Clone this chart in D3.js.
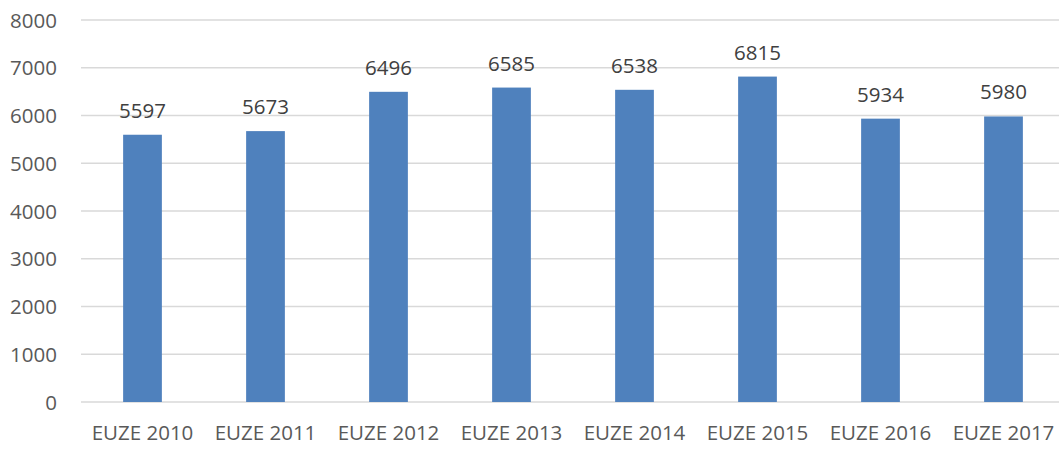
<!DOCTYPE html>
<html><head><meta charset="utf-8">
<script src="https://cdn.jsdelivr.net/npm/d3@7"></script>
<style>body{margin:0;background:#fff;} text{font-family:"Open Sans",sans-serif;fill:#595959;}</style>
</head><body><svg id="c" width="1059" height="449"></svg>
<script>
const categories = ["EUZE 2010","EUZE 2011","EUZE 2012","EUZE 2013","EUZE 2014","EUZE 2015","EUZE 2016","EUZE 2017"];
const values = [5597,5673,6496,6585,6538,6815,5934,5980];
const yTicks = [0,1000,2000,3000,4000,5000,6000,7000,8000];

const svg = d3.select("#c");
const x = d3.scaleBand().domain(categories).range([81,1065]).paddingInner(0.685).paddingOuter(0.3425);
const y = d3.scaleLinear().domain([0,8000]).range([402,20]);

// gridlines
svg.append("g").selectAll("line").data(yTicks).join("line")
  .attr("x1",81).attr("x2",1059).attr("y1",d=>y(d)).attr("y2",d=>y(d))
  .attr("stroke","#d9d9d9").attr("stroke-width",1.5);

// y axis labels
const yAxis = d3.axisLeft(y).tickValues(yTicks).tickSize(0).tickPadding(0).tickFormat(d3.format("d"));
const gy = svg.append("g").attr("transform","translate(57,0)").call(yAxis);
gy.select(".domain").remove();
gy.selectAll("text").attr("font-size",20.5).style("font-family","Open Sans").style("fill","#595959").attr("dy","0.35em");

// bars
svg.append("g").selectAll("rect").data(values).join("rect")
  .attr("x",(d,i)=>x(categories[i])).attr("width",x.bandwidth())
  .attr("y",d=>y(d)).attr("height",d=>y(0)-y(d)).attr("fill","#4f81bd");

// value labels
svg.append("g").selectAll("text").data(values).join("text")
  .attr("x",(d,i)=>x(categories[i])+x.bandwidth()/2).attr("y",d=>y(d)-17)
  .attr("text-anchor","middle").attr("font-size",20.5).style("fill","#404040").text(d=>d);

// x axis labels
const xAxis = d3.axisBottom(x).tickSize(0).tickPadding(0);
const gx = svg.append("g").attr("transform","translate(0,440)").call(xAxis);
gx.select(".domain").remove();
gx.selectAll("text").attr("font-size",20.5).style("font-family","Open Sans").style("fill","#595959").attr("dy","0");
</script></body></html>
